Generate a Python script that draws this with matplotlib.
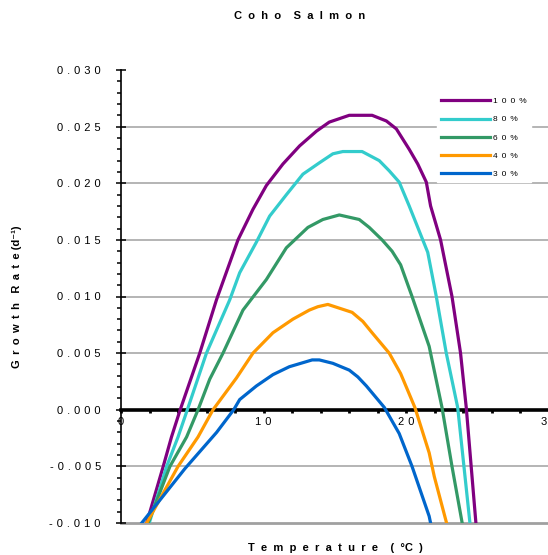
import matplotlib.pyplot as plt
from matplotlib.ticker import MultipleLocator, FixedLocator
from matplotlib.lines import Line2D

plt.rcParams['font.family'] = ['Liberation Sans', 'DejaVu Sans']

# temperature (C) and growth rate for each ration level
t100 = [1.8, 2.96, 3.54, 4.15, 5.52, 6.69, 8.2, 9.25, 10.19, 11.35, 12.52, 13.7, 14.6, 16.0, 17.6, 18.6, 19.3, 20.2, 20.8, 21.4, 21.7, 22.4, 23.2, 23.8, 24.2, 24.87]
g100 = [-0.0100, -0.0050, -0.0024, 0.0, 0.0050, 0.0097, 0.0150, 0.0177, 0.0198, 0.0217, 0.0233, 0.0246, 0.0254, 0.0260, 0.0260, 0.0255, 0.0248, 0.0230, 0.0217, 0.0201, 0.0180, 0.0150, 0.0100, 0.0050, 0.0002, -0.0099]

t80 = [1.98, 3.2, 4.0, 4.65, 5.99, 7.62, 8.32, 9.49, 10.42, 11.6, 12.75, 13.9, 14.85, 15.55, 16.9, 18.1, 18.8, 19.5, 20.2, 21.5, 22.1, 22.8, 23.6, 24.45]
g80 = [-0.0100, -0.0050, -0.0024, 0.0, 0.0050, 0.0097, 0.0121, 0.0148, 0.0171, 0.0190, 0.0208, 0.0218, 0.0226, 0.0228, 0.0228, 0.0220, 0.0211, 0.0201, 0.0180, 0.0139, 0.0100, 0.0050, 0.0002, -0.0099]

t60 = [1.9, 3.43, 4.6, 5.4, 6.22, 7.15, 8.55, 10.19, 11.59, 13.1, 14.15, 15.3, 16.7, 17.4, 18.3, 19.0, 19.6, 20.4, 21.6, 22.5, 23.2, 23.9]
g60 = [-0.0100, -0.0050, -0.0024, 0.0, 0.0027, 0.0050, 0.0088, 0.0115, 0.0143, 0.0161, 0.0168, 0.0172, 0.0168, 0.0161, 0.0150, 0.0140, 0.0128, 0.0100, 0.0056, 0.0002, -0.0050, -0.0099]

t40 = [1.8, 4.0, 5.4, 6.45, 8.09, 9.25, 10.65, 12.05, 13.2, 13.8, 14.5, 16.2, 16.95, 17.6, 18.8, 19.6, 20.6, 21.6, 21.96, 22.8]
g40 = [-0.0100, -0.0050, -0.0024, 0.0, 0.0028, 0.0050, 0.0068, 0.0080, 0.0088, 0.0091, 0.0093, 0.0086, 0.0078, 0.0068, 0.0050, 0.0032, 0.0002, -0.0038, -0.0059, -0.0099]

t30 = [1.45, 4.48, 6.7, 7.9, 8.32, 9.49, 10.65, 11.8, 13.4, 13.9, 14.85, 16.0, 16.6, 17.2, 18.46, 19.5, 20.4, 21.6, 21.7]
g30 = [-0.0100, -0.0052, -0.0020, 0.0, 0.0009, 0.0021, 0.0031, 0.0038, 0.0044, 0.0044, 0.0041, 0.0035, 0.0029, 0.0021, 0.0002, -0.0021, -0.0050, -0.0094, -0.0100]

labels = ['100%', '80%', '60%', '40%', '30%']
colors = ['#800080', '#33CCCC', '#339966', '#FF9900', '#0066CC']
yticks = [-0.010, -0.005, 0.000, 0.005, 0.010, 0.015, 0.020, 0.025, 0.030]
xticks = [0, 10, 20, 30]


def spaced(s, sep=' \u200a'):
    return sep.join(s)


fig = plt.figure(figsize=(5.48, 5.55), dpi=100)
ax = fig.add_axes([121 / 548, 32 / 555, 428 / 548, 453 / 555])

# gridlines
for y in yticks[1:-1]:
    if y != 0:
        ax.axhline(y, color='#a0a0a0', lw=1.1, zorder=1)
ax.axhline(-0.010, color='#a0a0a0', lw=2, zorder=1, clip_on=False)

series = [(t100, g100), (t80, g80), (t60, g60), (t40, g40), (t30, g30)]
for (t, g), c in zip(series, colors):
    ax.plot(t, g, color=c, lw=2.3, zorder=3, solid_joinstyle='round')

ax.set_xlim(0, 30)
ax.set_ylim(-0.010, 0.030)

ax.spines['top'].set_visible(False)
ax.spines['right'].set_visible(False)
ax.spines['left'].set_linewidth(1.2)
ax.spines['bottom'].set_position(('data', 0))
ax.spines['bottom'].set_linewidth(2.6)
ax.spines['bottom'].set_zorder(2.5)

ax.xaxis.set_major_locator(FixedLocator(xticks))
ax.xaxis.set_minor_locator(MultipleLocator(2))
ax.set_xticklabels([spaced(str(v)) for v in xticks], fontsize=8)
ax.tick_params(axis='x', which='both', direction='out', length=2.5, width=2, pad=3)

ax.yaxis.set_major_locator(FixedLocator(yticks))
ax.yaxis.set_minor_locator(MultipleLocator(0.001))
ax.set_yticklabels([spaced('%.3f' % v) for v in yticks], fontsize=8)
ax.tick_params(axis='y', which='major', direction='inout', length=7, width=1.1, pad=11)
ax.tick_params(axis='y', which='minor', direction='out', length=3, width=1.1)

fig.text(300 / 548, 1 - 16 / 555, spaced('Coho', '  ') + '    ' + spaced('Salmon', '  '),
         ha='center', va='center', fontsize=8, fontweight='bold')
fig.text(335 / 548, 1 - 548 / 555, spaced('Temperature', '  ') + '    (  °C  )',
         ha='center', va='center', fontsize=8, fontweight='bold')
fig.text(17 / 548, 1 - 297 / 555, spaced('Growth', ' \u2009') + '   ' + spaced('Rate', ' \u2009') + ' (d⁻¹)',
         ha='center', va='center', rotation=90, fontsize=8, fontweight='bold')

handles = [Line2D([], [], color=c, lw=2.3) for c in colors]
leg = ax.legend(handles, [spaced(s, ' \u2009') for s in labels], loc='upper left',
                bbox_to_anchor=(433 / 548, 1 - 89 / 555),
                bbox_transform=fig.transFigure, fontsize=6, frameon=True, fancybox=False,
                edgecolor='white', facecolor='white', framealpha=1,
                handlelength=5.8, handletextpad=0.4, labelspacing=1.25, borderpad=0.5)
leg.set_zorder(5)

plt.savefig('out.png', dpi=100)
plt.close()
